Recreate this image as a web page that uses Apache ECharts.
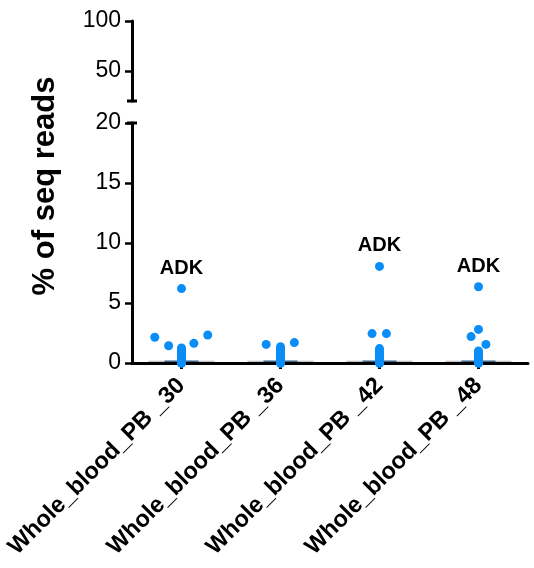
<!DOCTYPE html>
<html>
<head>
<meta charset="utf-8">
<script src="https://cdn.jsdelivr.net/npm/echarts@6/dist/echarts.min.js"></script>
<style>
html,body{margin:0;padding:0;background:#fff;}
#chart{width:534px;height:568px;}
</style>
</head>
<body>
<div id="chart"></div>
<script>
// ---- data ----
const categories = ['Whole_blood_PB _30', 'Whole_blood_PB _36', 'Whole_blood_PB _42', 'Whole_blood_PB _48'];
const upperTicks = [50, 100];
const lowerTicks = [0, 5, 10, 15, 20];

// per-group values and horizontal jitter (fraction of a category band)
const values30  = [6.2, 2.15, 1.44, 1.64, 2.33, 1.25, 1.1, 0.95, 0.8, 0.65, 0.5, 0.4, 0.3, 0.2, 0.15, 0.1, 0.05, 0.02, 0, 0];
const jitter30  = [0, -0.27, -0.13, 0.125, 0.265, 0, 0, 0, 0, 0, 0, 0, 0, 0, 0, 0, 0, 0, 0, 0];
const values36  = [1.55, 1.7, 1.35, 1.2, 1.0, 0.85, 0.7, 0.55, 0.4, 0.3, 0.2, 0.1, 0.05, 0.02, 0, 0];
const jitter36  = [-0.145, 0.14, 0, 0, 0, 0, 0, 0, 0, 0, 0, 0, 0, 0, 0, 0];
const values42  = [8.05, 2.45, 2.45, 1.2, 1.05, 0.9, 0.75, 0.6, 0.45, 0.3, 0.2, 0.1, 0.05, 0.02, 0, 0];
const jitter42  = [0, -0.075, 0.07, 0, 0, 0, 0, 0, 0, 0, 0, 0, 0, 0, 0, 0];
const values48  = [6.35, 2.2, 2.8, 1.55, 1.0, 0.85, 0.7, 0.55, 0.4, 0.3, 0.2, 0.1, 0.05, 0.02, 0, 0];
const jitter48  = [0, -0.075, 0, 0.075, 0, 0, 0, 0, 0, 0, 0, 0, 0, 0, 0, 0];
const outlierLabel = 'ADK';
const labeledValues = [6.2, null, 8.05, 6.35];
const medians = [0.15, 0.15, 0.15, 0.15];

const groups = [
  [values30, jitter30], [values36, jitter36], [values42, jitter42], [values48, jitter48]
];

const pointData = [];
groups.forEach(function (g, i) {
  g[0].forEach(function (v, j) {
    const item = { value: [i + g[1][j], v] };
    if (labeledValues[i] !== null && v === labeledValues[i]) {
      item.label = { show: true, formatter: outlierLabel };
    }
    pointData.push(item);
  });
});
const medianData = medians.map(function (m, i) { return [i, m]; });

const FONT = 'Liberation Sans, Arial, Helvetica, sans-serif';
const BLUE = '#0b8df7';

const chart = echarts.init(document.getElementById('chart'), null, { renderer: 'canvas' });
chart.setOption({
  animation: false,
  backgroundColor: '#fff',
  grid: [
    { left: 132, right: 6, top: 21, height: 80 },
    { left: 132, right: 6, top: 123, height: 240 }
  ],
  xAxis: [
    { type: 'category', gridIndex: 0, data: categories, show: false },
    {
      type: 'category', gridIndex: 1, data: categories, boundaryGap: true,
      axisLine: { show: true, onZero: false, lineStyle: { color: '#000', width: 3 } },
      axisTick: { show: true, alignWithLabel: true, length: 6, lineStyle: { color: '#000', width: 3 } },
      axisLabel: { rotate: 45, margin: 19, color: '#000', fontSize: 23.5, fontWeight: 'bold', fontFamily: FONT, interval: 0 },
      splitLine: { show: false }
    },
    { type: 'value', gridIndex: 1, min: -0.5, max: 3.5, show: false }
  ],
  yAxis: [
    {
      type: 'value', gridIndex: 0, min: 20, max: 100,
      axisLine: { show: true, onZero: false, lineStyle: { color: '#000', width: 3 }, symbol: ['rect', 'none'], symbolSize: [10, 3] },
      axisTick: { show: true, length: 7, lineStyle: { color: '#000', width: 2.5 }, customValues: upperTicks },
      axisLabel: { color: '#000', fontSize: 23, fontFamily: FONT, margin: 11, customValues: upperTicks },
      splitLine: { show: false }
    },
    {
      type: 'value', gridIndex: 1, min: 0, max: 20, interval: 5,
      axisLine: { show: true, onZero: false, lineStyle: { color: '#000', width: 3 }, symbol: ['none', 'rect'], symbolSize: [10, 3] },
      axisTick: { show: true, length: 7, lineStyle: { color: '#000', width: 2.5 } },
      axisLabel: { color: '#000', fontSize: 23, fontFamily: FONT, margin: 11,
        formatter: function (v) { return lowerTicks.indexOf(v) >= 0 ? String(v) : ''; } },
      splitLine: { show: false }
    }
  ],
  graphic: [{
    type: 'text', x: 45, y: 186, rotation: Math.PI / 2,
    style: { text: '% of seq reads', font: 'bold 31px ' + FONT, fill: '#000', align: 'center', verticalAlign: 'middle' }
  }],
  series: [
    {
      type: 'scatter', xAxisIndex: 2, yAxisIndex: 1, data: medianData,
      symbol: 'rect', symbolSize: [66, 1], itemStyle: { color: '#9a9a9a' }, silent: true, z: 1
    },
    {
      type: 'scatter', xAxisIndex: 2, yAxisIndex: 1, data: medianData,
      symbol: 'rect', symbolSize: [34, 1.5], itemStyle: { color: '#1b4f7f' }, silent: true, z: 1
    },
    {
      type: 'scatter', xAxisIndex: 2, yAxisIndex: 1, data: pointData, clip: false,
      symbol: 'circle', symbolSize: 9, itemStyle: { color: BLUE, opacity: 1 },
      label: { show: false, position: 'top', distance: 6, color: '#000', fontSize: 20, fontWeight: 'bold', fontFamily: FONT },
      z: 3
    }
  ]
});
</script>
</body>
</html>
